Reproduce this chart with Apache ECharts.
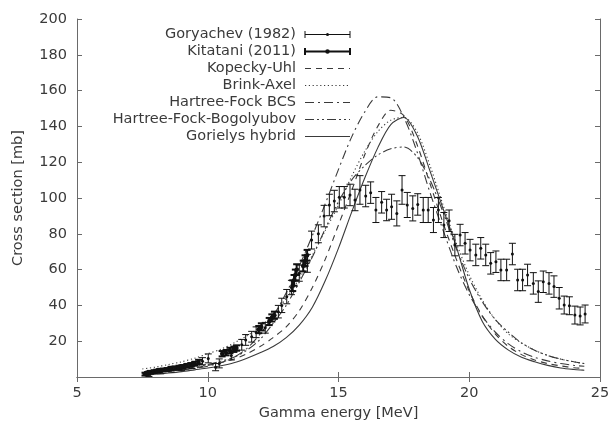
<!DOCTYPE html>
<html>
<head>
<meta charset="utf-8">
<script src="https://cdn.jsdelivr.net/npm/echarts@6/dist/echarts.min.js"></script>
<style>
html, body { margin: 0; padding: 0; background: #fff; }
#main { width: 613px; height: 428px; }
</style>
</head>
<body>
<div id="main"></div>
<script>
// Goryachev (1982): energy [MeV], cross section [mb], error [mb]
var goryE = [7.75, 8.2, 8.6, 9.0, 9.4, 9.8, 10.02, 10.3, 10.44, 10.9, 11.3, 11.45, 11.68, 11.85, 12.2,
  12.7, 12.83, 13.02, 13.2, 13.5, 13.81, 13.97, 14.23, 14.45, 14.65, 14.84, 15.03, 15.22, 15.44,
  15.63, 15.82, 16.04, 16.23, 16.43, 16.65, 16.84, 17.03, 17.23, 17.43, 17.63, 17.84, 18.03, 18.24,
  18.43, 18.63, 18.82, 19.03, 19.23, 19.45, 19.65, 19.84, 20.03, 20.25, 20.44, 20.63, 20.82, 21.02,
  21.21, 21.43, 21.65, 21.85, 22.04, 22.23, 22.45, 22.64, 22.83, 23.05, 23.24, 23.44, 23.63, 23.83,
  24.04, 24.24, 24.43];
var goryS = [1.8, 3.3, 4.3, 5.2, 6.3, 8.8, 10.4, 5.5, 7.6, 12.0, 18.0, 20.7, 22.5, 25.0, 27.5,
  36.5, 40.0, 44.9, 50.0, 58.0, 63.5, 76.5, 80.0, 89.9, 96.1, 98.3, 100.4, 100.4, 101.7,
  98.9, 104.5, 101.1, 103.0, 93.3, 97.6, 93.3, 95.1, 91.4, 104.5, 96.1, 94.2, 96.4, 93.3,
  93.3, 87.7, 93.3, 84.9, 87.3, 73.7, 79.3, 74.7, 70.9, 68.2, 71.9, 68.2, 63.5, 64.4,
  59.8, 59.8, 68.7, 54.2, 54.2, 57.0, 52.3, 47.7, 53.2, 52.3, 50.5, 44.0, 40.2, 39.8,
  34.6, 34.1, 35.2];
var goryErr = [1.5, 1.5, 1.5, 1.5, 1.5, 2, 2.5, 2, 2.5, 2.5, 3, 3, 3, 3, 3,
  3.5, 4, 4, 4, 4.5, 5, 5, 5, 6, 6, 6, 6, 6, 6,
  6, 8, 6, 6, 7, 6, 6, 7, 7, 8, 7, 7, 6, 7,
  7, 7, 7, 7, 6, 6, 6, 6, 6, 6, 6, 6, 6, 6,
  6, 6, 6, 6, 6, 6, 6, 6, 6, 6, 6, 6, 5, 5,
  5, 5, 5];

// Kitatani (2011)
var kitE = [7.6, 7.7, 7.8, 7.95, 8.05, 8.15, 8.3, 8.45, 8.6, 8.75, 8.9, 9.05, 9.2, 9.35, 9.5, 9.65,
  10.55, 10.7, 10.85, 11.0, 11.1, 11.95, 12.05, 12.35, 12.45, 12.55, 13.25, 13.3, 13.35, 13.4,
  13.65, 13.72, 13.8];
var kitS = [1.6, 2.0, 2.6, 3.0, 3.3, 3.6, 3.9, 4.2, 4.8, 5.0, 5.3, 5.7, 6.3, 6.8, 7.4, 8.4,
  13.0, 13.6, 14.8, 15.5, 16.2, 26.5, 28.0, 31.0, 33.0, 34.5, 51.0, 54.0, 57.0, 60.0,
  62.0, 65.0, 68.0];
var kitErr = [0.8, 0.8, 0.8, 0.8, 0.8, 0.8, 0.8, 0.8, 0.9, 0.9, 1, 1, 1, 1, 1.1, 1.2,
  1.5, 1.5, 1.5, 1.5, 1.5, 2, 2, 2, 2, 2, 3, 3, 3, 3,
  3, 3, 3];

// model curves on a common energy grid
var modelE = [7.5, 8, 8.5, 9, 9.5, 10, 10.5, 11, 11.5, 12, 12.5, 13, 13.5, 14, 14.5, 15, 15.5,
  16, 16.5, 17, 17.5, 18, 18.5, 19, 19.5, 20, 20.5, 21, 21.5, 22, 22.5, 23, 23.5, 24, 24.4];
var kopeckyUhl = [1.8, 2.5, 3.2, 4.0, 5.0, 6.5, 8.0, 10, 13, 17, 22, 28, 37, 50, 66, 85, 104,
  124, 140, 149, 146, 130, 108, 86, 66, 48, 34, 24, 17, 12.5, 9.5, 7.5, 6.2, 5.2, 4.8];
var brinkAxel = [4.5, 5.5, 7.0, 8.5, 10.5, 13, 15.5, 19, 23, 28, 35, 44, 55, 68, 82, 96, 112,
  126, 137, 143.5, 145, 137, 118, 96, 75, 57, 43, 32, 24, 19, 15, 12, 10, 8.5, 7.5];
var hfBcs = [2.0, 2.6, 3.3, 4.0, 4.8, 6.0, 8.0, 11, 16, 24, 34, 47, 62, 79, 97, 116, 134,
  148, 156.5, 156, 145, 126, 103, 82, 62, 46, 34, 25, 18.5, 14, 11, 9, 7.5, 6.5, 6];
var hfb = [2.5, 3.0, 3.8, 4.8, 5.8, 7.0, 8.8, 11, 15, 21, 30, 40, 53, 67, 83, 98, 110,
  118, 124, 127.5, 128.5, 123, 110, 92, 72, 55, 42, 32, 25, 19, 15, 12, 10, 8.5, 7.5];
var gorielys = [1.0, 1.5, 2.2, 3.0, 4.0, 5.0, 6.3, 8.0, 10.5, 13.5, 17, 22, 29, 39, 54, 72, 92,
  111, 128, 141, 145, 135, 115, 94, 73, 49, 31, 21, 15, 11, 8.5, 6.5, 5, 4.2, 3.8];

var legendNames = ['Goryachev (1982)', 'Kitatani (2011)', 'Kopecky-Uhl', 'Brink-Axel',
  'Hartree-Fock BCS', 'Hartree-Fock-Bogolyubov', 'Gorielys hybrid'];

var FONT = 'DejaVu Sans';
var INK = '#111';
var CURVE = '#3a3a3a';
var FRAME = '#6a6a6a';
var TEXT = '#3a3a3a';

var curves = [
  { name: 'Kopecky-Uhl', values: kopeckyUhl, dash: [6, 5] },
  { name: 'Brink-Axel', values: brinkAxel, dash: [1.2, 2.6] },
  { name: 'Hartree-Fock BCS', values: hfBcs, dash: [9, 4, 2, 4] },
  { name: 'Hartree-Fock-Bogolyubov', values: hfb, dash: [9, 3, 2, 3, 2, 3] },
  { name: 'Gorielys hybrid', values: gorielys, dash: null }
];

function zip3(a, b, c) {
  return a.map(function (v, i) { return [v, b[i], c[i]]; });
}

function errorBars(dotR, lw) {
  return function (params, api) {
    var x = api.value(0), y = api.value(1), e = api.value(2);
    var hi = api.coord([x, y + e]);
    var lo = api.coord([x, y - e]);
    var c = api.coord([x, y]);
    var w = 3.5;
    var st = { stroke: INK, lineWidth: lw, fill: null };
    return {
      type: 'group',
      children: [
        { type: 'line', shape: { x1: hi[0], y1: hi[1], x2: lo[0], y2: lo[1] }, style: st },
        { type: 'line', shape: { x1: hi[0] - w, y1: hi[1], x2: hi[0] + w, y2: hi[1] }, style: st },
        { type: 'line', shape: { x1: lo[0] - w, y1: lo[1], x2: lo[0] + w, y2: lo[1] }, style: st },
        { type: 'circle', shape: { cx: c[0], cy: c[1], r: dotR }, style: { fill: INK } }
      ]
    };
  };
}

var series = [
  { type: 'custom', name: legendNames[0], renderItem: errorBars(1.5, 1), data: zip3(goryE, goryS, goryErr), clip: true, z: 5 },
  { type: 'custom', name: legendNames[1], renderItem: errorBars(2.2, 2), data: zip3(kitE, kitS, kitErr), clip: true, z: 6 }
];
curves.forEach(function (cv) {
  series.push({
    type: 'line',
    name: cv.name,
    data: modelE.map(function (e, i) { return [e, cv.values[i]]; }),
    showSymbol: false,
    smooth: 0.3,
    lineStyle: { color: CURVE, width: 1.1, type: cv.dash || 'solid' },
    z: 3
  });
});

// legend drawn by hand: text right aligned, sample on the right
var legendItems = [];
var legY0 = 34.5, legStep = 17, textRight = 296, sx1 = 305, sx2 = 350;
legendNames.forEach(function (name, i) {
  var y = legY0 + i * legStep;
  legendItems.push({
    type: 'text', x: textRight, y: y,
    style: { text: name, textAlign: 'right', textVerticalAlign: 'middle', font: '14.5px "' + FONT + '"', fill: TEXT }
  });
  if (i < 2) {
    var lw = i === 0 ? 1 : 2;
    var st = { stroke: INK, lineWidth: lw };
    legendItems.push({ type: 'line', shape: { x1: sx1, y1: y, x2: sx2, y2: y }, style: st });
    legendItems.push({ type: 'line', shape: { x1: sx1, y1: y - 3.5, x2: sx1, y2: y + 3.5 }, style: st });
    legendItems.push({ type: 'line', shape: { x1: sx2, y1: y - 3.5, x2: sx2, y2: y + 3.5 }, style: st });
    legendItems.push({ type: 'circle', shape: { cx: (sx1 + sx2) / 2, cy: y, r: i === 0 ? 1.5 : 2.2 }, style: { fill: INK } });
  } else {
    var cv = curves[i - 2];
    legendItems.push({
      type: 'line', shape: { x1: sx1, y1: y, x2: sx2, y2: y },
      style: { stroke: CURVE, lineWidth: 1.1, lineDash: cv.dash }
    });
  }
});

var tickStyle = { show: true, inside: true, length: 5, lineStyle: { color: FRAME } };
var lineAx = { show: true, lineStyle: { color: FRAME, width: 1 } };
var labelStyle = { color: TEXT, fontSize: 14.5, fontFamily: FONT };

var option = {
  animation: false,
  backgroundColor: '#fff',
  grid: { left: 77, right: 13, top: 19, bottom: 51, containLabel: false, outerBoundsMode: 'none' },
  xAxis: [
    {
      type: 'value', min: 5, max: 25, interval: 5, position: 'bottom',
      axisLine: lineAx, axisTick: tickStyle, splitLine: { show: false },
      axisLabel: Object.assign({ margin: 9 }, labelStyle),
      name: 'Gamma energy [MeV]', nameLocation: 'middle', nameGap: 27,
      nameTextStyle: labelStyle
    },
    {
      type: 'value', min: 5, max: 25, interval: 5, position: 'top',
      axisLine: lineAx, axisTick: tickStyle, splitLine: { show: false },
      axisLabel: { show: false }
    }
  ],
  yAxis: [
    {
      type: 'value', min: 0, max: 200, interval: 20, position: 'left',
      axisLine: lineAx, axisTick: tickStyle, splitLine: { show: false },
      axisLabel: Object.assign({ margin: 10, formatter: function (v) { return v === 0 ? '' : v; } }, labelStyle),
      name: 'Cross section [mb]', nameLocation: 'middle', nameGap: 51,
      nameTextStyle: labelStyle
    },
    {
      type: 'value', min: 0, max: 200, interval: 20, position: 'right',
      axisLine: lineAx, axisTick: tickStyle, splitLine: { show: false },
      axisLabel: { show: false }
    }
  ],
  graphic: legendItems,
  series: series
};

var chart = echarts.init(document.getElementById('main'), null, { renderer: 'canvas' });
chart.setOption(option);
</script>
</body>
</html>
